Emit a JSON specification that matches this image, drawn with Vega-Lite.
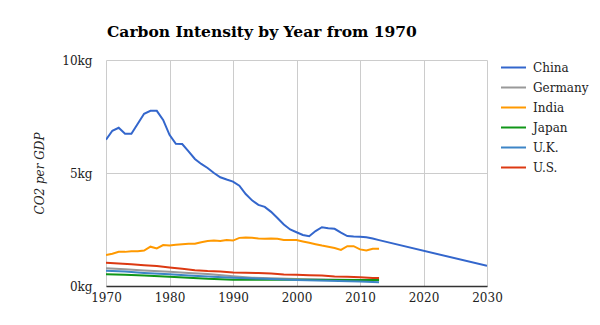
{
  "$schema": "https://vega.github.io/schema/vega-lite/v6.json",
  "width": 381,
  "height": 226,
  "autosize": "none",
  "padding": {"left": 106, "top": 60, "right": 113, "bottom": 39},
  "background": "white",
  "title": {
    "text": "Carbon Intensity by Year from 1970",
    "anchor": "start",
    "frame": "group",
    "font": "DejaVu Serif",
    "fontSize": 15.5,
    "fontWeight": "bold",
    "color": "#000000",
    "offset": 14,
    "dx": 1
  },
  "config": {
    "view": {"stroke": null},
    "font": "DejaVu Serif"
  },
  "data": {
    "values": [
      {"country": "China", "year": 1970, "v": 6.47},
      {"country": "China", "year": 1971, "v": 6.87},
      {"country": "China", "year": 1972, "v": 7.0},
      {"country": "China", "year": 1973, "v": 6.74},
      {"country": "China", "year": 1974, "v": 6.74},
      {"country": "China", "year": 1975, "v": 7.18},
      {"country": "China", "year": 1976, "v": 7.62},
      {"country": "China", "year": 1977, "v": 7.75},
      {"country": "China", "year": 1978, "v": 7.75},
      {"country": "China", "year": 1979, "v": 7.35},
      {"country": "China", "year": 1980, "v": 6.69},
      {"country": "China", "year": 1981, "v": 6.29},
      {"country": "China", "year": 1982, "v": 6.28},
      {"country": "China", "year": 1983, "v": 5.96},
      {"country": "China", "year": 1984, "v": 5.62},
      {"country": "China", "year": 1985, "v": 5.4},
      {"country": "China", "year": 1986, "v": 5.22},
      {"country": "China", "year": 1987, "v": 5.0},
      {"country": "China", "year": 1988, "v": 4.81},
      {"country": "China", "year": 1989, "v": 4.71},
      {"country": "China", "year": 1990, "v": 4.62},
      {"country": "China", "year": 1991, "v": 4.44},
      {"country": "China", "year": 1992, "v": 4.07},
      {"country": "China", "year": 1993, "v": 3.79},
      {"country": "China", "year": 1994, "v": 3.59},
      {"country": "China", "year": 1995, "v": 3.5},
      {"country": "China", "year": 1996, "v": 3.28},
      {"country": "China", "year": 1997, "v": 3.01},
      {"country": "China", "year": 1998, "v": 2.72},
      {"country": "China", "year": 1999, "v": 2.5},
      {"country": "China", "year": 2000, "v": 2.38},
      {"country": "China", "year": 2001, "v": 2.26},
      {"country": "China", "year": 2002, "v": 2.2},
      {"country": "China", "year": 2003, "v": 2.43},
      {"country": "China", "year": 2004, "v": 2.6},
      {"country": "China", "year": 2005, "v": 2.56},
      {"country": "China", "year": 2006, "v": 2.53},
      {"country": "China", "year": 2007, "v": 2.36},
      {"country": "China", "year": 2008, "v": 2.21},
      {"country": "China", "year": 2009, "v": 2.19},
      {"country": "China", "year": 2010, "v": 2.18},
      {"country": "China", "year": 2011, "v": 2.16},
      {"country": "China", "year": 2012, "v": 2.1},
      {"country": "China", "year": 2013, "v": 2.03},
      {"country": "China", "year": 2030, "v": 0.89},

      {"country": "Germany", "year": 1970, "v": 0.78},
      {"country": "Germany", "year": 1973, "v": 0.74},
      {"country": "Germany", "year": 1976, "v": 0.69},
      {"country": "Germany", "year": 1980, "v": 0.63},
      {"country": "Germany", "year": 1983, "v": 0.58},
      {"country": "Germany", "year": 1986, "v": 0.53},
      {"country": "Germany", "year": 1990, "v": 0.43},
      {"country": "Germany", "year": 1993, "v": 0.37},
      {"country": "Germany", "year": 1996, "v": 0.34},
      {"country": "Germany", "year": 2000, "v": 0.31},
      {"country": "Germany", "year": 2005, "v": 0.29},
      {"country": "Germany", "year": 2010, "v": 0.26},
      {"country": "Germany", "year": 2013, "v": 0.25},

      {"country": "India", "year": 1970, "v": 1.37},
      {"country": "India", "year": 1971, "v": 1.43},
      {"country": "India", "year": 1972, "v": 1.51},
      {"country": "India", "year": 1973, "v": 1.51},
      {"country": "India", "year": 1974, "v": 1.54},
      {"country": "India", "year": 1975, "v": 1.54},
      {"country": "India", "year": 1976, "v": 1.57},
      {"country": "India", "year": 1977, "v": 1.74},
      {"country": "India", "year": 1978, "v": 1.66},
      {"country": "India", "year": 1979, "v": 1.81},
      {"country": "India", "year": 1980, "v": 1.79},
      {"country": "India", "year": 1981, "v": 1.82},
      {"country": "India", "year": 1982, "v": 1.85},
      {"country": "India", "year": 1983, "v": 1.87},
      {"country": "India", "year": 1984, "v": 1.87},
      {"country": "India", "year": 1985, "v": 1.94},
      {"country": "India", "year": 1986, "v": 1.99},
      {"country": "India", "year": 1987, "v": 2.01},
      {"country": "India", "year": 1988, "v": 1.99},
      {"country": "India", "year": 1989, "v": 2.03},
      {"country": "India", "year": 1990, "v": 2.01},
      {"country": "India", "year": 1991, "v": 2.13},
      {"country": "India", "year": 1992, "v": 2.15},
      {"country": "India", "year": 1993, "v": 2.13},
      {"country": "India", "year": 1994, "v": 2.1},
      {"country": "India", "year": 1995, "v": 2.09},
      {"country": "India", "year": 1996, "v": 2.1},
      {"country": "India", "year": 1997, "v": 2.09},
      {"country": "India", "year": 1998, "v": 2.04},
      {"country": "India", "year": 1999, "v": 2.03},
      {"country": "India", "year": 2000, "v": 2.03},
      {"country": "India", "year": 2001, "v": 1.97},
      {"country": "India", "year": 2002, "v": 1.91},
      {"country": "India", "year": 2003, "v": 1.85},
      {"country": "India", "year": 2004, "v": 1.79},
      {"country": "India", "year": 2005, "v": 1.74},
      {"country": "India", "year": 2006, "v": 1.68},
      {"country": "India", "year": 2007, "v": 1.6},
      {"country": "India", "year": 2008, "v": 1.76},
      {"country": "India", "year": 2009, "v": 1.76},
      {"country": "India", "year": 2010, "v": 1.62},
      {"country": "India", "year": 2011, "v": 1.57},
      {"country": "India", "year": 2012, "v": 1.65},
      {"country": "India", "year": 2013, "v": 1.65},

      {"country": "Japan", "year": 1970, "v": 0.52},
      {"country": "Japan", "year": 1973, "v": 0.5},
      {"country": "Japan", "year": 1976, "v": 0.46},
      {"country": "Japan", "year": 1980, "v": 0.41},
      {"country": "Japan", "year": 1983, "v": 0.37},
      {"country": "Japan", "year": 1986, "v": 0.32},
      {"country": "Japan", "year": 1990, "v": 0.28},
      {"country": "Japan", "year": 1995, "v": 0.28},
      {"country": "Japan", "year": 2000, "v": 0.28},
      {"country": "Japan", "year": 2005, "v": 0.27},
      {"country": "Japan", "year": 2010, "v": 0.26},
      {"country": "Japan", "year": 2013, "v": 0.26},

      {"country": "U.K.", "year": 1970, "v": 0.68},
      {"country": "U.K.", "year": 1973, "v": 0.64},
      {"country": "U.K.", "year": 1976, "v": 0.58},
      {"country": "U.K.", "year": 1980, "v": 0.52},
      {"country": "U.K.", "year": 1983, "v": 0.47},
      {"country": "U.K.", "year": 1986, "v": 0.42},
      {"country": "U.K.", "year": 1990, "v": 0.37},
      {"country": "U.K.", "year": 1995, "v": 0.32},
      {"country": "U.K.", "year": 2000, "v": 0.27},
      {"country": "U.K.", "year": 2005, "v": 0.23},
      {"country": "U.K.", "year": 2010, "v": 0.2},
      {"country": "U.K.", "year": 2013, "v": 0.17},

      {"country": "U.S.", "year": 1970, "v": 1.03},
      {"country": "U.S.", "year": 1972, "v": 1.0},
      {"country": "U.S.", "year": 1974, "v": 0.96},
      {"country": "U.S.", "year": 1976, "v": 0.92},
      {"country": "U.S.", "year": 1978, "v": 0.88},
      {"country": "U.S.", "year": 1980, "v": 0.82},
      {"country": "U.S.", "year": 1982, "v": 0.76},
      {"country": "U.S.", "year": 1984, "v": 0.7},
      {"country": "U.S.", "year": 1986, "v": 0.66},
      {"country": "U.S.", "year": 1988, "v": 0.64},
      {"country": "U.S.", "year": 1990, "v": 0.6},
      {"country": "U.S.", "year": 1992, "v": 0.59},
      {"country": "U.S.", "year": 1994, "v": 0.57},
      {"country": "U.S.", "year": 1996, "v": 0.55},
      {"country": "U.S.", "year": 1998, "v": 0.51},
      {"country": "U.S.", "year": 2000, "v": 0.5},
      {"country": "U.S.", "year": 2002, "v": 0.48},
      {"country": "U.S.", "year": 2004, "v": 0.46},
      {"country": "U.S.", "year": 2006, "v": 0.42},
      {"country": "U.S.", "year": 2008, "v": 0.41},
      {"country": "U.S.", "year": 2010, "v": 0.39},
      {"country": "U.S.", "year": 2012, "v": 0.35},
      {"country": "U.S.", "year": 2013, "v": 0.35}
    ]
  },
  "mark": {"type": "line", "strokeWidth": 2, "clip": true},
  "encoding": {
    "x": {
      "field": "year",
      "type": "quantitative",
      "scale": {"domain": [1970, 2030], "nice": false, "zero": false},
      "axis": {
        "values": [1970, 1980, 1990, 2000, 2010, 2020, 2030],
        "format": "d",
        "title": null,
        "grid": true,
        "gridColor": "#cccccc",
        "gridWidth": 1,
        "domain": true,
        "domainColor": "#333333",
        "domainWidth": 1.5,
        "ticks": false,
        "labelFlush": false,
        "labelFont": "DejaVu Serif",
        "labelFontSize": 12,
        "labelColor": "#222222",
        "labelPadding": 6
      }
    },
    "y": {
      "field": "v",
      "type": "quantitative",
      "scale": {"domain": [0, 10], "nice": false},
      "axis": {
        "values": [0, 5, 10],
        "labelExpr": "datum.value + 'kg'",
        "title": "CO2 per GDP",
        "titleFont": "DejaVu Serif",
        "titleFontStyle": "italic",
        "titleFontWeight": "normal",
        "titleFontSize": 12,
        "titleColor": "#222222",
        "titlePadding": 15,
        "grid": true,
        "gridColor": "#cccccc",
        "gridWidth": 1,
        "domain": false,
        "ticks": false,
        "labelFlush": false,
        "labelFont": "DejaVu Serif",
        "labelFontSize": 12,
        "labelColor": "#222222",
        "labelPadding": 14
      }
    },
    "color": {
      "field": "country",
      "type": "nominal",
      "scale": {
        "domain": ["China", "Germany", "India", "Japan", "U.K.", "U.S."],
        "range": ["#3366cc", "#999999", "#ff9900", "#109618", "#3d85c6", "#dc3912"]
      },
      "legend": {
        "title": null,
        "orient": "none",
        "legendX": 394,
        "legendY": -6,
        "symbolType": "stroke",
        "symbolSize": 625,
        "symbolStrokeWidth": 2,
        "labelFont": "DejaVu Serif",
        "labelFontSize": 12,
        "labelColor": "#222222",
        "rowPadding": 0,
        "labelOffset": 6
      }
    }
  }
}
